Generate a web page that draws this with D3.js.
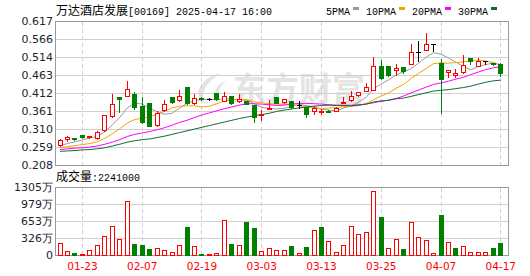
<!DOCTYPE html>
<html><head><meta charset="utf-8">
<script src="https://cdn.jsdelivr.net/npm/d3@7/dist/d3.min.js"></script>
<style>
html,body{margin:0;padding:0;background:#fff;}
svg{display:block;}
</style></head><body>
<svg id="chart" width="530" height="276"></svg>
<script>
// ---------------- data ----------------
const stockName = "万达酒店发展";
const stockInfo = "[00169] 2025-04-17 16:00";
const dates = ["01-20","01-21","01-22","01-23","01-24","01-27","01-28","02-03","02-04","02-05","02-06","02-07","02-10","02-11","02-12","02-13","02-14","02-17","02-18","02-19","02-20","02-21","02-24","02-25","02-26","02-27","02-28","03-03","03-04","03-05","03-06","03-07","03-10","03-11","03-12","03-13","03-14","03-17","03-18","03-19","03-20","03-21","03-24","03-25","03-26","03-27","03-28","03-31","04-01","04-02","04-03","04-07","04-08","04-09","04-10","04-11","04-14","04-15","04-16","04-17"];
const open = [0.266,0.281,0.284,0.292,0.288,0.286,0.306,0.348,0.400,0.404,
0.410,0.375,0.384,0.321,0.365,0.401,0.392,0.430,0.383,0.397,
0.395,0.413,0.391,0.404,0.391,0.390,0.379,0.350,0.369,0.401,
0.386,0.390,0.377,0.372,0.361,0.359,0.362,0.362,0.387,0.393,
0.406,0.419,0.422,0.490,0.489,0.479,0.485,0.494,0.530,0.535,
0.551,0.499,0.471,0.465,0.471,0.512,0.490,0.502,0.498,0.494];
const high = [0.283,0.289,0.285,0.292,0.290,0.305,0.349,0.410,0.401,0.447,
0.416,0.400,0.384,0.361,0.392,0.401,0.420,0.430,0.410,0.401,
0.397,0.413,0.416,0.404,0.410,0.391,0.379,0.363,0.392,0.401,
0.396,0.390,0.390,0.372,0.375,0.367,0.363,0.372,0.402,0.419,
0.414,0.440,0.514,0.507,0.489,0.494,0.485,0.552,0.560,0.582,
0.551,0.508,0.478,0.480,0.520,0.512,0.512,0.502,0.499,0.499];
const low = [0.262,0.276,0.280,0.286,0.285,0.283,0.304,0.344,0.358,0.404,
0.366,0.326,0.320,0.318,0.362,0.385,0.390,0.380,0.381,0.393,
0.392,0.392,0.389,0.380,0.386,0.380,0.330,0.335,0.367,0.383,
0.385,0.370,0.369,0.345,0.352,0.352,0.358,0.360,0.386,0.390,
0.405,0.418,0.420,0.452,0.462,0.464,0.469,0.494,0.503,0.535,
0.533,0.357,0.457,0.457,0.470,0.495,0.488,0.495,0.492,0.461];
const close = [0.279,0.288,0.281,0.287,0.289,0.302,0.349,0.381,0.396,0.423,
0.372,0.331,0.320,0.355,0.381,0.388,0.404,0.385,0.399,0.395,
0.395,0.395,0.404,0.385,0.395,0.382,0.344,0.352,0.371,0.385,
0.395,0.374,0.377,0.352,0.369,0.360,0.360,0.371,0.388,0.403,
0.414,0.430,0.488,0.455,0.464,0.484,0.474,0.530,0.530,0.551,
0.551,0.452,0.478,0.468,0.492,0.502,0.502,0.502,0.494,0.468];
// volume in 万 (10k shares)
const volume = [224,70,38,19,90,186,365,550,307,1030,
211,192,115,128,90,51,186,537,173,13,
13,32,665,211,186,633,518,70,128,90,
90,173,32,154,473,537,262,51,186,550,
397,435,1222,729,128,301,115,627,339,281,
32,768,243,134,173,51,51,51,134,224.1];
const ma5 = [0.263,0.269,0.274,0.279,0.285,0.289,0.302,0.322,0.343,0.370,
0.384,0.381,0.368,0.360,0.352,0.355,0.370,0.383,0.391,0.394,
0.395,0.393,0.397,0.394,0.394,0.392,0.382,0.372,0.369,0.367,
0.369,0.375,0.380,0.377,0.373,0.366,0.364,0.362,0.370,0.376,
0.387,0.401,0.425,0.438,0.450,0.464,0.473,0.482,0.497,0.514,
0.527,0.523,0.512,0.500,0.488,0.478,0.488,0.493,0.498,0.493];
const ma10 = [0.257,0.260,0.263,0.266,0.269,0.274,0.284,0.297,0.311,0.327,
0.337,0.341,0.345,0.352,0.361,0.370,0.375,0.376,0.376,0.373,
0.375,0.382,0.390,0.393,0.394,0.394,0.388,0.385,0.382,0.381,
0.381,0.379,0.376,0.373,0.370,0.368,0.370,0.371,0.374,0.375,
0.377,0.383,0.394,0.404,0.413,0.426,0.437,0.454,0.468,0.482,
0.496,0.498,0.497,0.499,0.501,0.503,0.506,0.503,0.499,0.491];
const ma20 = [0.252,0.254,0.256,0.257,0.259,0.262,0.267,0.273,0.280,0.289,
0.295,0.299,0.303,0.308,0.314,0.321,0.329,0.335,0.343,0.350,
0.356,0.362,0.368,0.373,0.378,0.382,0.382,0.381,0.379,0.377,
0.378,0.381,0.383,0.383,0.382,0.381,0.379,0.378,0.378,0.378,
0.379,0.381,0.385,0.389,0.392,0.397,0.404,0.413,0.421,0.429,
0.437,0.441,0.446,0.452,0.457,0.465,0.472,0.479,0.484,0.487];
const ma30 = [0.247,0.248,0.249,0.251,0.252,0.254,0.257,0.262,0.267,0.273,
0.277,0.280,0.282,0.286,0.290,0.295,0.300,0.305,0.310,0.315,
0.320,0.325,0.330,0.335,0.340,0.344,0.348,0.351,0.355,0.360,
0.364,0.367,0.370,0.373,0.375,0.377,0.378,0.377,0.377,0.376,
0.378,0.381,0.387,0.390,0.392,0.396,0.398,0.403,0.408,0.413,
0.418,0.420,0.422,0.425,0.428,0.432,0.438,0.443,0.447,0.449];
const maNames = ["5PMA","10PMA","20PMA","30PMA"];
const priceTicks = [0.617,0.566,0.514,0.463,0.412,0.361,0.310,0.259,0.208];
const volTicks = [0,326,653,979,1305];
const xTicks = ["01-23","02-07","02-19","03-03","03-13","03-25","04-07","04-17"];
const volLabel = "成交量";

// ---------------- styles ----------------
const RED = "#ff0000", GREEN = "#008000", FLAT = "#000000";
const maColors = ["#9a9a9a","#f5a300","#ff00ff","#0b6e33"];
const gridColor = "#d0d0d0", frameColor = "#9a9a9a";
const cjk = "'Noto Sans CJK SC', sans-serif";
const mono = "'Liberation Mono', 'DejaVu Sans Mono', monospace";
const sans = "'DejaVu Sans', sans-serif";

const svg = d3.select("#chart");
const L = 55.5, R = 508.5;
const x = d3.scaleBand().domain(dates).range([56.3, 504.5]);
const bw = x.bandwidth();
const cx = d => x(d) + bw / 2;
const y = d3.scaleLinear().domain([0.208, 0.617]).range([165, 21]);
const yv = d3.scaleLinear().domain([0, 1305]).range([255, 187]);
const px = v => Math.round(v) + 0.5;

svg.append("rect").attr("width", 530).attr("height", 276).attr("fill", "#fff");

// watermark
const wm = svg.append("g").attr("fill", "#e4e4e4");
wm.append("path").attr("d", "M221 73 C199 78 191 96 206 104 C200 95 204 84 221 73 Z M226 80 C214 86 211 97 219 103 C216 95 219 88 226 80 Z");
wm.append("text").attr("x", 233).attr("y", 101).attr("font-family", cjk)
  .attr("font-size", 33).attr("font-weight", "bold").text("东方财富");

// horizontal grid
svg.append("g").selectAll("line").data(priceTicks.slice(1, -1)).join("line")
  .attr("x1", L).attr("x2", R).attr("y1", d => px(y(d))).attr("y2", d => px(y(d)))
  .attr("stroke", gridColor);
svg.append("g").selectAll("line").data(volTicks.slice(1, -1)).join("line")
  .attr("x1", L).attr("x2", R).attr("y1", d => px(yv(d))).attr("y2", d => px(yv(d)))
  .attr("stroke", gridColor);
// vertical dashed grid
const vg = svg.append("g").attr("stroke", gridColor).attr("stroke-dasharray", "4,3");
xTicks.forEach(d => {
  const xx = px(cx(d) - 0.5);
  vg.append("line").attr("x1", xx).attr("x2", xx).attr("y1", 22).attr("y2", 165);
  vg.append("line").attr("x1", xx).attr("x2", xx).attr("y1", 188).attr("y2", 255);
});

// frames
svg.append("rect").attr("x", L).attr("y", px(y(0.617))).attr("width", R - L)
  .attr("height", px(y(0.208)) - px(y(0.617))).attr("fill", "none").attr("stroke", frameColor);
svg.append("rect").attr("x", L).attr("y", px(yv(1305))).attr("width", R - L)
  .attr("height", px(yv(0)) - px(yv(1305))).attr("fill", "none").attr("stroke", frameColor);

// MA lines
const mas = [ma5, ma10, ma20, ma30];
mas.forEach((arr, k) => {
  svg.append("path").datum(arr)
    .attr("d", d3.line().x((d, i) => cx(dates[i])).y(d => y(d)))
    .attr("fill", "none").attr("stroke", maColors[k]).attr("stroke-width", 1);
});

// candles
const cg = svg.append("g").attr("shape-rendering", "crispEdges");
dates.forEach((d, i) => {
  const o = open[i], c = close[i];
  const col = c > o ? RED : (c < o ? GREEN : FLAT);
  const x0 = Math.round(cx(d) - 2.5);
  const xm = x0 + 2.5;
  cg.append("line").attr("x1", xm).attr("x2", xm)
    .attr("y1", Math.round(y(high[i]))).attr("y2", Math.round(y(low[i])) + 1)
    .attr("stroke", col);
  if (c === o) {
    const yy = px(y(c));
    cg.append("line").attr("x1", x0).attr("x2", x0 + 5).attr("y1", yy).attr("y2", yy).attr("stroke", col);
  } else {
    const top = Math.round(y(Math.max(o, c))), bot = Math.round(y(Math.min(o, c)));
    cg.append("rect").attr("x", x0 + 0.5).attr("y", top + 0.5)
      .attr("width", 4).attr("height", Math.max(bot - top, 1))
      .attr("fill", c > o ? "#fff" : GREEN).attr("stroke", col);
  }
});

// volume bars
const vb = svg.append("g").attr("shape-rendering", "crispEdges");
dates.forEach((d, i) => {
  const up = i === 0 ? close[i] >= open[i] : close[i] >= close[i - 1];
  const x0 = Math.round(cx(d) - 2.5);
  const top = Math.round(yv(volume[i]));
  vb.append("rect").attr("x", x0 + 0.5).attr("y", top + 0.5)
    .attr("width", 4).attr("height", Math.max(255 - top, 1))
    .attr("fill", up ? "#fff" : GREEN).attr("stroke", up ? RED : GREEN);
});

// axes
const ya = svg.append("g").attr("transform", "translate(56,0)")
  .call(d3.axisLeft(y).tickValues(priceTicks).tickFormat(d3.format(".3f")).tickSize(0).tickPadding(3));
ya.select(".domain").remove();
ya.selectAll("text").attr("font-family", sans).attr("font-size", 11).attr("fill", "#1e1e2e");

const va = svg.append("g").attr("transform", "translate(56,0)")
  .call(d3.axisLeft(yv).tickValues(volTicks).tickFormat(d => d === 0 ? "0" : d + "万").tickSize(0).tickPadding(3));
va.select(".domain").remove();
va.selectAll("text").attr("font-family", sans).attr("font-size", 11).attr("fill", "#1e1e2e");

const xa = svg.append("g").attr("transform", "translate(0,255)")
  .call(d3.axisBottom(x).tickValues(xTicks).tickSize(0));
xa.select(".domain").remove();
xa.selectAll("text").attr("y", 15).attr("dy", null)
  .attr("font-family", sans).attr("font-size", 10.5).attr("fill", RED);

// title
svg.append("text").attr("x", 56).attr("y", 15).attr("font-family", cjk).attr("font-size", 12)
  .attr("fill", "#000").text(stockName);
svg.append("text").attr("x", 56 + stockName.length * 12).attr("y", 15).attr("font-family", mono)
  .attr("font-size", 11.5).attr("fill", "#000")
  .attr("textLength", stockInfo.length * 6).attr("lengthAdjust", "spacingAndGlyphs").text(stockInfo);

// legend
let lx = 326;
maNames.forEach((n, k) => {
  const w = n.length * 6;
  svg.append("text").attr("x", lx).attr("y", 15).attr("font-family", mono).attr("font-size", 11.5)
    .attr("fill", "#000").attr("textLength", w).attr("lengthAdjust", "spacingAndGlyphs").text(n);
  svg.append("rect").attr("x", lx + w + 3).attr("y", 7).attr("width", 6).attr("height", 3)
    .attr("fill", maColors[k]);
  lx += w + 3 + 6 + 7;
});

// volume label
svg.append("text").attr("x", 56).attr("y", 181).attr("font-family", cjk).attr("font-size", 12)
  .attr("fill", "#000").text(volLabel);
const vtxt = ":" + Math.round(volume[volume.length - 1] * 10000);
svg.append("text").attr("x", 56 + volLabel.length * 12).attr("y", 181).attr("font-family", mono)
  .attr("font-size", 11.5).attr("fill", "#000")
  .attr("textLength", vtxt.length * 6).attr("lengthAdjust", "spacingAndGlyphs").text(vtxt);
</script>
</body></html>
